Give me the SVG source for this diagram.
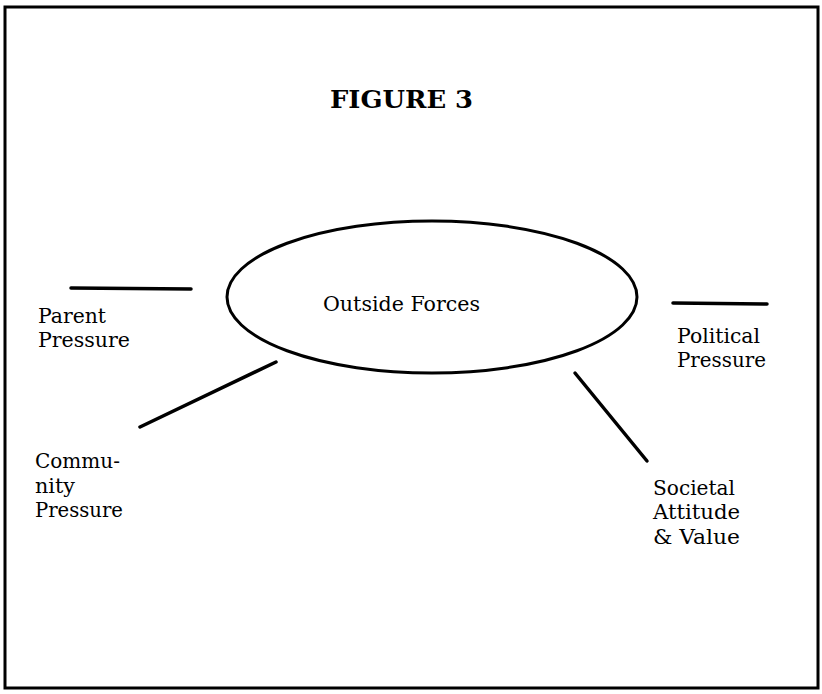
<svg xmlns="http://www.w3.org/2000/svg" width="822" height="694" viewBox="0 0 822 694">
<style>
.lbl{font-family:"DejaVu Serif","Liberation Serif",serif;font-size:20px;fill:#000}
.ttl{font-family:"DejaVu Serif","Liberation Serif",serif;font-size:25px;font-weight:bold;fill:#000}
.ln{stroke:#000;stroke-width:3.5;stroke-linecap:round;fill:none}
</style>
<rect x="5" y="7" width="813" height="681" fill="#fff" stroke="#000" stroke-width="3"/>
<text class="ttl" x="330" y="108" textLength="143" lengthAdjust="spacingAndGlyphs">FIGURE 3</text>
<g id="outside-forces">
<ellipse cx="432" cy="297" rx="205" ry="76" fill="none" stroke="#000" stroke-width="3"/>
<text class="lbl" x="323" y="311" textLength="157" lengthAdjust="spacingAndGlyphs">Outside Forces</text>
</g>
<g id="connectors">
<line class="ln" x1="71" y1="288" x2="191" y2="289"/>
<line class="ln" x1="140" y1="427" x2="276" y2="362"/>
<line class="ln" x1="673" y1="303" x2="767" y2="304"/>
<line class="ln" x1="575" y1="373" x2="647" y2="461"/>
</g>
<g id="parent-pressure">
<text class="lbl" x="38" y="323" textLength="68" lengthAdjust="spacingAndGlyphs">Parent</text>
<text class="lbl" x="38" y="347" textLength="92" lengthAdjust="spacingAndGlyphs">Pressure</text>
</g>
<g id="community-pressure">
<text class="lbl" x="35" y="468" textLength="85" lengthAdjust="spacingAndGlyphs">Commu-</text>
<text class="lbl" x="35" y="493" textLength="40" lengthAdjust="spacingAndGlyphs">nity</text>
<text class="lbl" x="35" y="517" textLength="88" lengthAdjust="spacingAndGlyphs">Pressure</text>
</g>
<g id="political-pressure">
<text class="lbl" x="677" y="343" textLength="83" lengthAdjust="spacingAndGlyphs">Political</text>
<text class="lbl" x="677" y="367" textLength="89" lengthAdjust="spacingAndGlyphs">Pressure</text>
</g>
<g id="societal-attitude">
<text class="lbl" x="653" y="495" textLength="82" lengthAdjust="spacingAndGlyphs">Societal</text>
<text class="lbl" x="653" y="519" textLength="87" lengthAdjust="spacingAndGlyphs">Attitude</text>
<text class="lbl" x="653" y="544" textLength="87" lengthAdjust="spacingAndGlyphs">&amp; Value</text>
</g>
</svg>
